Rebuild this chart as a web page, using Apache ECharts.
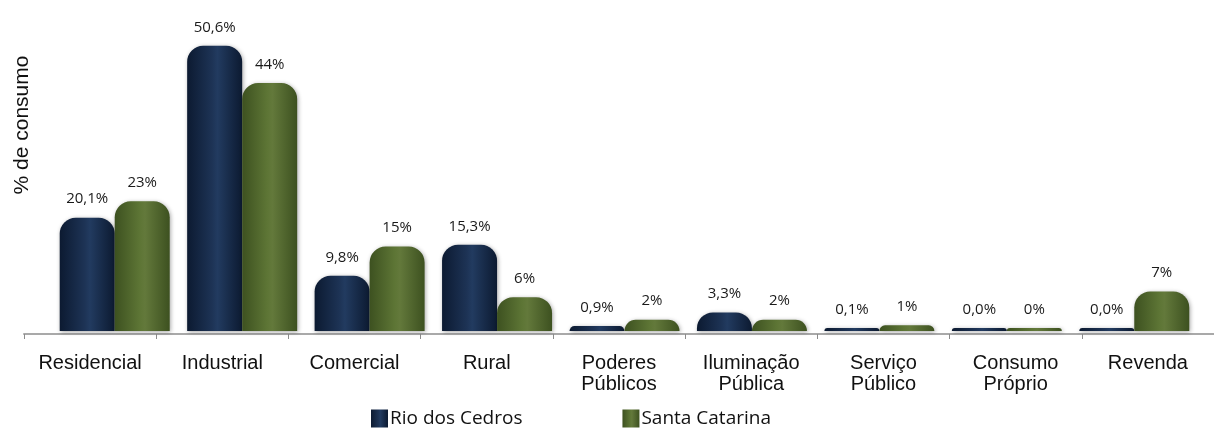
<!DOCTYPE html>
<html>
<head>
<meta charset="utf-8">
<script src="https://cdn.jsdelivr.net/npm/echarts@6/dist/echarts.min.js"></script>
<style>
  html, body { margin: 0; padding: 0; background: #ffffff; }
  #chart { width: 1214px; height: 435px; }
</style>
</head>
<body>
<div id="chart"></div>
<script>
// Consumption share by class: municipality vs. state
const categories = ['Residencial', 'Industrial', 'Comercial', 'Rural', 'Poderes\nPúblicos',
  'Iluminação\nPública', 'Serviço\nPúblico', 'Consumo\nPróprio', 'Revenda'];
const seriesNames = ['Rio dos Cedros', 'Santa Catarina'];
const rioDosCedros = [20.1, 50.6, 9.8, 15.3, 0.9, 3.3, 0.1, 0.0, 0.0];
const santaCatarina = [23, 44, 15, 6, 2, 2, 1, 0, 7];

const chart = echarts.init(document.getElementById('chart'), null, { renderer: 'canvas' });

// horizontal gradient gives each bar a rounded, cylinder-like shading
function cylinder(edge, mid, light) {
  return new echarts.graphic.LinearGradient(0, 0, 1, 0, [
    { offset: 0, color: edge },
    { offset: 0.45, color: mid },
    { offset: 0.55, color: light },
    { offset: 1, color: edge }
  ]);
}

const navyFill = cylinder('#0c1a31', '#1d3355', '#223b60');
const greenFill = cylinder('#3d5120', '#5d7535', '#63793b');

const labelFont = { fontFamily: 'Open Sans', fontSize: 15, color: '#1a1a1a' };

function barSeries(name, values, fill, fmt) {
  return {
    name: name,
    type: 'bar',
    xAxisIndex: 1,
    yAxisIndex: 1,
    data: values,
    barWidth: 55,
    barGap: '0%',
    barMinHeight: 3,
    itemStyle: {
      color: fill,
      borderRadius: [16, 16, 0, 0],
      shadowColor: 'rgba(0,0,0,0.35)',
      shadowBlur: 4,
      shadowOffsetX: 1,
      shadowOffsetY: 1
    },
    label: Object.assign({
      show: true,
      position: 'top',
      distance: 11,
      formatter: p => fmt(p.value)
    }, labelFont),
    emphasis: { disabled: true }
  };
}

const option = {
  animation: false,
  backgroundColor: '#ffffff',
  grid: [
    // floor plane: axis line, ticks and category names
    { left: 24, right: -10, top: 21, bottom: 101 },
    // back plane where the bars stand
    { left: 51, right: 16, top: 21, bottom: 104 }
  ],
  xAxis: [
    {
      type: 'category',
      gridIndex: 0,
      data: categories,
      boundaryGap: true,
      axisLine: { show: true, lineStyle: { color: '#a9a9a9', width: 2 } },
      axisTick: { show: true, interval: 0, length: 5, lineStyle: { color: '#8c8c8c', width: 1 } },
      axisLabel: {
        interval: 0,
        margin: 19,
        fontFamily: 'Liberation Sans',
        fontSize: 20,
        lineHeight: 21,
        color: '#111111'
      }
    },
    {
      type: 'category',
      gridIndex: 1,
      data: categories,
      show: false
    }
  ],
  yAxis: [
    { type: 'value', gridIndex: 0, show: false, min: 0, max: 55 },
    { type: 'value', gridIndex: 1, show: false, min: 0, max: 55 }
  ],
  legend: {
    data: seriesNames,
    left: 366,
    top: 404,
    itemWidth: 17,
    itemHeight: 18,
    itemGap: 100,
    icon: 'rect',
    textStyle: { fontFamily: 'Open Sans', fontSize: 19, color: '#111111', padding: [0, 0, 0, -3] },
    selectedMode: false
  },
  graphic: [
    {
      type: 'text',
      x: 22,
      y: 125,
      rotation: Math.PI / 2,
      style: {
        text: '% de consumo',
        fontFamily: 'Liberation Sans',
        fontSize: 21,
        fill: '#111111',
        align: 'center',
        verticalAlign: 'middle'
      }
    }
  ],
  series: [
    barSeries(seriesNames[0], rioDosCedros, navyFill, v => v.toFixed(1).replace('.', ',') + '%'),
    barSeries(seriesNames[1], santaCatarina, greenFill, v => Math.round(v) + '%')
  ]
};

chart.setOption(option);
</script>
</body>
</html>
